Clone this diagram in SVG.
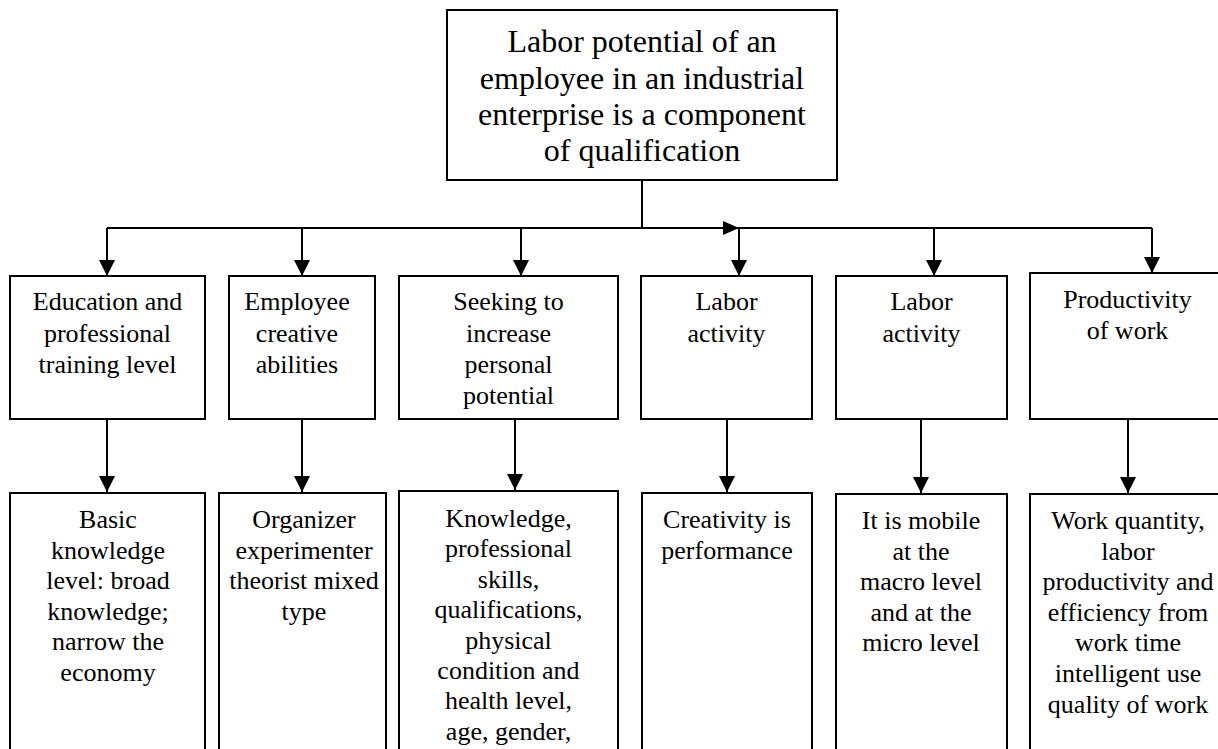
<svg xmlns="http://www.w3.org/2000/svg" width="1218" height="749" viewBox="0 0 1218 749" font-family="'Liberation Serif', Tinos, 'Times New Roman', 'DejaVu Serif', serif">
  <defs>
    <marker id="arrow" markerUnits="userSpaceOnUse" markerWidth="16" markerHeight="16" refX="16" refY="8" orient="auto">
      <path d="M0,0 L16,8 L0,16 Z" fill="#000"/>
    </marker>
    <style>
      .box { fill: #fff; stroke: #000; stroke-width: 2; }
      .line { fill: none; stroke: #000; stroke-width: 2; }
      .arr { fill: none; stroke: #000; stroke-width: 2; marker-end: url(#arrow); }
      text { fill: #000; text-anchor: middle; }
      .t { font-size: 26px; }
      .top { font-size: 32px; }
    </style>
  </defs>
  <rect width="1218" height="749" fill="#fff"/>

  <!-- connectors -->
  <g id="connectors">
    <path class="line" d="M642,180 V228"/>
    <path class="line" d="M107,228 H1152"/>
    <path d="M723,221 L739,228 L723,235 Z" fill="#000"/>
    <path class="arr" d="M107,228 V276"/>
    <path class="arr" d="M302,228 V276"/>
    <path class="arr" d="M521,228 V276"/>
    <path class="arr" d="M739,228 V276"/>
    <path class="arr" d="M934,228 V276"/>
    <path class="arr" d="M1152,228 V273"/>
    <path class="arr" d="M107,419 V492"/>
    <path class="arr" d="M302,419 V492"/>
    <path class="arr" d="M515,419 V490"/>
    <path class="arr" d="M727,419 V492"/>
    <path class="arr" d="M921,419 V493"/>
    <path class="arr" d="M1128,419 V493"/>
  </g>

  <!-- root -->
  <g id="root" font-family="'Liberation Serif', Tinos, 'Times New Roman', 'DejaVu Serif', serif">
    <rect class="box" x="447" y="10" width="390" height="170"/>
    <text class="top" x="642" y="52">Labor potential of an</text>
    <text class="top" x="642" y="88.5">employee in an industrial</text>
    <text class="top" x="642" y="125">enterprise is a component</text>
    <text class="top" x="642" y="161">of qualification</text>
  </g>

  <!-- first level -->
  <g id="education">
    <rect class="box" x="10" y="276" width="195" height="143"/>
    <text class="t" x="107.5" y="310">Education and</text>
    <text class="t" x="107.5" y="341.5">professional</text>
    <text class="t" x="107.5" y="373">training level</text>
  </g>
  <g id="creative">
    <rect class="box" x="229" y="276" width="146" height="143"/>
    <text class="t" x="297" y="310">Employee</text>
    <text class="t" x="297" y="341.5">creative</text>
    <text class="t" x="297" y="373">abilities</text>
  </g>
  <g id="seeking">
    <rect class="box" x="399" y="276" width="219" height="143"/>
    <text class="t" x="508.5" y="310">Seeking to</text>
    <text class="t" x="508.5" y="341.5">increase</text>
    <text class="t" x="508.5" y="373">personal</text>
    <text class="t" x="508.5" y="404">potential</text>
  </g>
  <g id="activity1">
    <rect class="box" x="641" y="276" width="171" height="143"/>
    <text class="t" x="726.5" y="310">Labor</text>
    <text class="t" x="726.5" y="341.5">activity</text>
  </g>
  <g id="activity2">
    <rect class="box" x="836" y="276" width="171" height="143"/>
    <text class="t" x="921.5" y="310">Labor</text>
    <text class="t" x="921.5" y="341.5">activity</text>
  </g>
  <g id="productivity">
    <rect class="box" x="1030" y="273" width="200" height="146"/>
    <text class="t" x="1127.5" y="308">Productivity</text>
    <text class="t" x="1127.5" y="339">of work</text>
  </g>

  <!-- second level -->
  <g id="knowledge-level">
    <rect class="box" x="10" y="493" width="195" height="270"/>
    <text class="t" x="108" y="528">Basic</text>
    <text class="t" x="108" y="558.6">knowledge</text>
    <text class="t" x="108" y="589.2">level: broad</text>
    <text class="t" x="108" y="619.8">knowledge;</text>
    <text class="t" x="108" y="650.4">narrow the</text>
    <text class="t" x="108" y="681">economy</text>
  </g>
  <g id="types">
    <rect class="box" x="219" y="493" width="167" height="270"/>
    <text class="t" x="304" y="528">Organizer</text>
    <text class="t" x="304" y="558.6">experimenter</text>
    <text class="t" x="304" y="589.2">theorist mixed</text>
    <text class="t" x="304" y="619.8">type</text>
  </g>
  <g id="skills">
    <rect class="box" x="399" y="491" width="219" height="272"/>
    <text class="t" x="508.5" y="527">Knowledge,</text>
    <text class="t" x="508.5" y="557.4">professional</text>
    <text class="t" x="508.5" y="587.8">skills,</text>
    <text class="t" x="508.5" y="618.2">qualifications,</text>
    <text class="t" x="508.5" y="648.6">physical</text>
    <text class="t" x="508.5" y="679">condition and</text>
    <text class="t" x="508.5" y="709.4">health level,</text>
    <text class="t" x="508.5" y="739.8">age, gender,</text>
  </g>
  <g id="creativity">
    <rect class="box" x="642" y="493" width="170" height="270"/>
    <text class="t" x="727" y="528">Creativity is</text>
    <text class="t" x="727" y="558.6">performance</text>
  </g>
  <g id="mobile">
    <rect class="box" x="836" y="494" width="171" height="270"/>
    <text class="t" x="921" y="529">It is mobile</text>
    <text class="t" x="921" y="559.6">at the</text>
    <text class="t" x="921" y="590.2">macro level</text>
    <text class="t" x="921" y="620.8">and at the</text>
    <text class="t" x="921" y="651.4">micro level</text>
  </g>
  <g id="quantity">
    <rect class="box" x="1030" y="494" width="200" height="270"/>
    <text class="t" x="1128" y="529">Work quantity,</text>
    <text class="t" x="1128" y="559.6">labor</text>
    <text class="t" x="1128" y="590.2">productivity and</text>
    <text class="t" x="1128" y="620.8">efficiency from</text>
    <text class="t" x="1128" y="651.4">work time</text>
    <text class="t" x="1128" y="682">intelligent use</text>
    <text class="t" x="1128" y="712.6">quality of work</text>
  </g>
</svg>
